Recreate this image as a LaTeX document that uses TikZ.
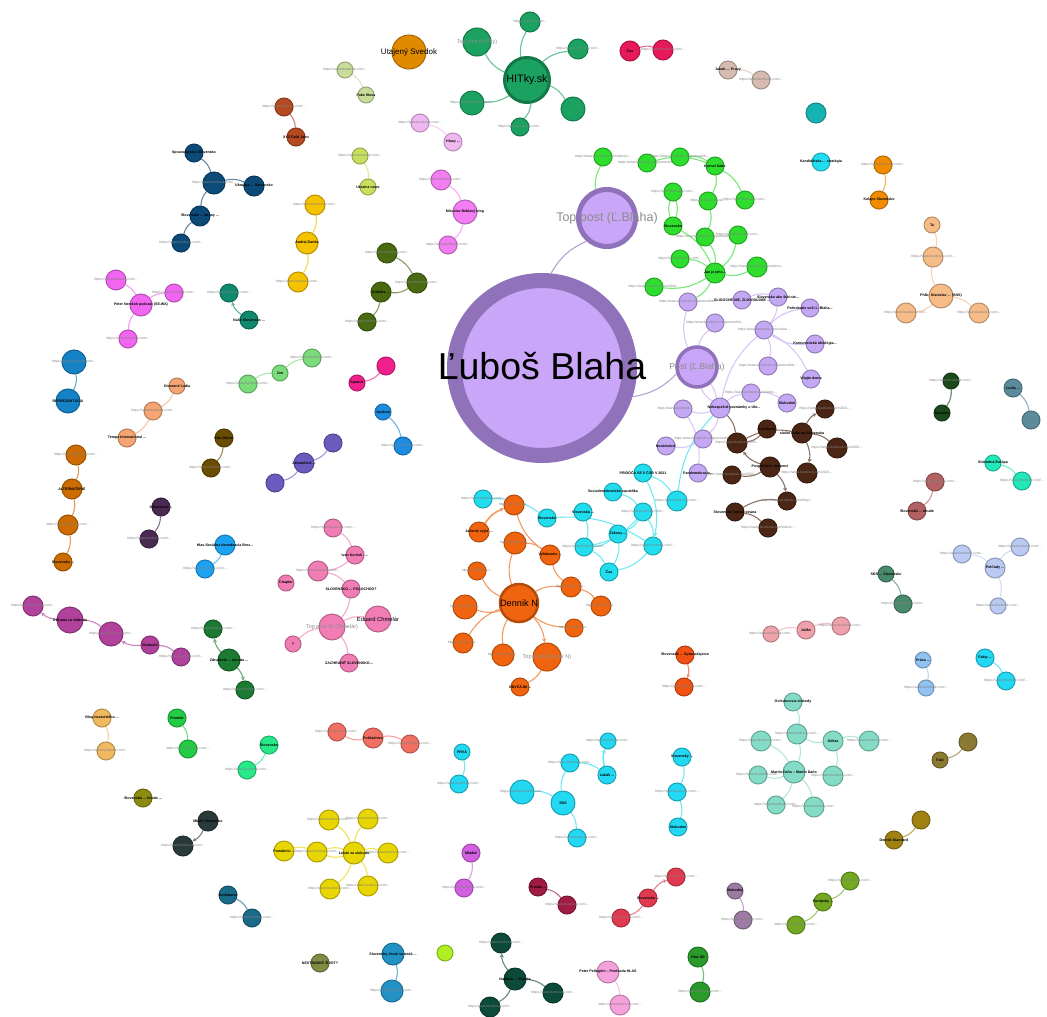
\documentclass[tikz,border=0pt]{standalone}
\usepackage{fontspec}
\setmainfont{Liberation Sans}
\usetikzlibrary{arrows.meta,backgrounds}

\definecolor{kblahaf}{HTML}{C9A6F7}
\definecolor{kblahal}{HTML}{8F72B9}
\definecolor{kpur}{HTML}{C4A8F4}
\definecolor{kbrown}{HTML}{4B2614}
\definecolor{kgreen}{HTML}{2EDD2E}
\definecolor{khit}{HTML}{1BA261}
\definecolor{kus}{HTML}{E08A00}
\definecolor{kcrim}{HTML}{E8195A}
\definecolor{krosy}{HTML}{D6BCB0}
\definecolor{kteal}{HTML}{17B2B2}
\definecolor{kcyan}{HTML}{22DDEE}
\definecolor{korng}{HTML}{F08C00}
\definecolor{kpeach}{HTML}{F5BC88}
\definecolor{kolivl}{HTML}{C8DC9C}
\definecolor{kbrred}{HTML}{B44A22}
\definecolor{klvio}{HTML}{F0B8F0}
\definecolor{kdblue}{HTML}{0C4A78}
\definecolor{kyel}{HTML}{F5C200}
\definecolor{klime}{HTML}{C8E060}
\definecolor{kmagl}{HTML}{F27EF2}
\definecolor{kodg}{HTML}{4A6A12}
\definecolor{kmpink}{HTML}{F066F0}
\definecolor{ktgrn}{HTML}{10896F}
\definecolor{kblu}{HTML}{1482C4}
\definecolor{klgrn}{HTML}{7CDC7C}
\definecolor{kpred}{HTML}{F0208C}
\definecolor{kbblu}{HTML}{1C8CE0}
\definecolor{ksalm}{HTML}{F5A474}
\definecolor{kobr}{HTML}{6A4C02}
\definecolor{kpmed}{HTML}{6A5CBE}
\definecolor{kobrn}{HTML}{CC6C02}
\definecolor{kdpurp}{HTML}{4A2A52}
\definecolor{ksblu}{HTML}{1CA2F0}
\definecolor{kmgp}{HTML}{B0429C}
\definecolor{kdgrn}{HTML}{1C7A32}
\definecolor{kchm}{HTML}{F07EB4}
\definecolor{kdn}{HTML}{F0640F}
\definecolor{klor}{HTML}{F2BA60}
\definecolor{kgr}{HTML}{22CC44}
\definecolor{kspg}{HTML}{28E88A}
\definecolor{ksrd}{HTML}{F07064}
\definecolor{kolv}{HTML}{8C8C10}
\definecolor{kdsl}{HTML}{2A3A3A}
\definecolor{kywl}{HTML}{E8D602}
\definecolor{kdtb}{HTML}{1A6A88}
\definecolor{kogr}{HTML}{7E8C44}
\definecolor{kbtl}{HTML}{2292C4}
\definecolor{klm}{HTML}{AEEE22}
\definecolor{kdkt}{HTML}{0C4A3A}
\definecolor{kpkl}{HTML}{F5A2DC}
\definecolor{kgg}{HTML}{2A9A2A}
\definecolor{kmgc}{HTML}{D060E0}
\definecolor{kcrm}{HTML}{A01C44}
\definecolor{krd}{HTML}{E03A50}
\definecolor{klvg}{HTML}{9C7CA2}
\definecolor{kgl}{HTML}{72A822}
\definecolor{kog}{HTML}{A08212}
\definecolor{kkh}{HTML}{8A7A32}
\definecolor{kmnt}{HTML}{84DCC6}
\definecolor{klpk}{HTML}{F0A2AA}
\definecolor{klb}{HTML}{92C2F0}
\definecolor{kcy}{HTML}{22D8F2}
\definecolor{kopr}{HTML}{F05214}
\definecolor{kgg2}{HTML}{4A8A6C}
\definecolor{klbv}{HTML}{BACAF2}
\definecolor{krose}{HTML}{B26262}
\definecolor{kmn}{HTML}{22E8BA}
\definecolor{kslt}{HTML}{5C8C9C}
\definecolor{kdgr}{HTML}{1C4A1C}

\tikzset{
  gnode/.style={circle, inner sep=0pt, line width=1pt},
  lbl/.style={font=\fontsize{3.6}{4}\selectfont\bfseries, text=black, inner sep=0pt},
  url/.style={font=\fontsize{3.4}{4}\selectfont, text=black!50, inner sep=0pt},
  toplbl/.style={text=black!45, inner sep=0pt},
  edge/.style={line width=1.1pt},
  arr/.style={-{Stealth[length=4pt,width=4pt]}},
}
% node: [label style]{name}{colour}{x,y}{radius}{text}
\newcommand{\gn}[6][url]{%
  \node[gnode,fill=#3,draw=#3!75!black,minimum size=#5*2pt] (#2) at (#4) {};
  \node[#1] at (#2) {#6};}
% edge: [options]{colour}{from}{to}
\newcommand{\ed}[4][]{\draw[edge,draw=#2!65,#1] (#3) to[bend left=18] (#4);}

\begin{document}
\begin{tikzpicture}[x=1pt,y=-1pt]
\useasboundingbox (0,0) rectangle (1047,1017);

% central
\node[circle,fill=kblahaf,draw=kblahal,line width=15pt,minimum size=175pt,inner sep=0pt] (blaha) at (542,368) {};
\node[circle,fill=kblahaf,draw=kblahal,line width=5pt,minimum size=57pt,inner sep=0pt] (topb) at (607,218) {};
\node[circle,fill=kblahaf,draw=kblahal,line width=3.5pt,minimum size=40pt,inner sep=0pt] (postb) at (697,367) {};

% purple
\gn{p1}{kpur}{688,302}{9}{https://www.facebook.com/permalink...}
\gn[lbl]{p2}{kpur}{742,300}{9}{OLIGOCHÉ NIE, ZLIKVIDUJME ...}
\gn[lbl]{p3}{kpur}{778,297}{9}{Slovensko ako štát nie...}
\gn[lbl]{p4}{kpur}{810,308}{9}{Pohrdnutie voči Ľ. Blaha...}
\gn{p5}{kpur}{715,323}{9}{https://www.facebook.com/permalink...}
\gn{p6}{kpur}{764,330}{9}{https://www.facebook.com/zlava/...}
\gn[lbl]{p7}{kpur}{815,344}{9}{Komunistická ideológia...}
\gn{p8}{kpur}{768,366}{9}{https://www.facebook.com/permalink...}
\gn[lbl]{p9}{kpur}{811,379}{9}{Vitajte doma}
\gn{p10}{kpur}{751,393}{9}{https://www.facebook.com/video...}
\gn[lbl]{p11}{kpur}{787,403}{9}{Slobodné}
\gn[lbl,xshift=14pt]{p12}{kpur}{720,408}{10}{Nebezpečné poznámky o Ukr...}
\gn[url,xshift=-8pt]{p13}{kpur}{683,409}{9}{https://www.facebook...}
\gn{p14}{kpur}{703,439}{9}{https://www.facebook.com/permalink...}
\gn[lbl]{p15}{kpur}{666,446}{9}{Nezávislosť}
\gn[lbl]{p16}{kpur}{698,473}{9}{Pandemokracia...}

% brown
\gn{b1}{kbrown}{825,409}{9}{https://www.facebook.com/2021...}
\gn[lbl]{b2}{kbrown}{767,429}{9}{Facebook}
\gn[lbl]{b3}{kbrown}{802,433}{10}{slušní ľudia na Slovensku}
\gn{b4}{kbrown}{737,443}{10}{https://www.facebook.com/...}
\gn{b5}{kbrown}{837,448}{10}{https://www.facebook.com/2021...}
\gn[lbl]{b6}{kbrown}{770,467}{10}{Pospolitosť vlastenci}
\gn{b7}{kbrown}{807,473}{10}{https://www.facebook.com/2021...}
\gn{b8}{kbrown}{732,475}{9}{https://www.facebook.com/2021...}
\gn{b9}{kbrown}{787,501}{9}{https://www.facebook.com/fotky/...}
\gn[lbl]{b10}{kbrown}{735,512}{9}{Slovenská ľudová strana}
\gn{b11}{kbrown}{768,528}{9}{https://www.facebook.com/videos...}

% green
\gn{g1}{kgreen}{603,157}{9}{https://www.facebook.com/videos/1...}
\gn{g2}{kgreen}{647,163}{9}{https://www.facebook.com/permalink...}
\gn{g3}{kgreen}{680,157}{9}{https://www.facebook.com/permalink...}
\gn[lbl]{g4}{kgreen}{715,166}{9}{Kornel Sabo}
\gn{g5}{kgreen}{673,192}{9}{https://www.facebook.com/...}
\gn{g6}{kgreen}{708,201}{9}{https://www.facebook...}
\gn{g7}{kgreen}{745,200}{9}{https://www.facebook.com/...}
\gn[lbl]{g8}{kgreen}{673,226}{9}{Slovensko}
\gn{g9}{kgreen}{705,237}{9}{https://www.facebook.com/permalink...}
\gn{g10}{kgreen}{738,235}{9}{https://www.facebook.com/...}
\gn{g11}{kgreen}{680,259}{9}{https://www.facebook.com/...}
\gn[lbl]{g12}{kgreen}{715,273}{10}{Jan je jeho...}
\gn{g13}{kgreen}{757,267}{10}{https://www.facebook.com/videos...}
\gn{g14}{kgreen}{654,287}{9}{https://www.facebook.com/2021...}

% HITky.sk
\node[circle,fill=khit,draw=khit!75!black,line width=3pt,minimum size=45pt,inner sep=0pt] (hit) at (527,80) {};
\gn{h2}{khit}{530,22}{10}{https://www.hitky.sk/...}
\gn{h3}{khit}{578,49}{10}{https://www.facebook.com/...}
\gn{h4}{khit}{573,109}{12}{}
\gn{h5}{khit}{520,127}{9}{https://www.facebook.com/...}
\gn{h6}{khit}{472,103}{12}{https://www.facebook.com/...}
\gn[toplbl,font=\fontsize{5.5}{6}\selectfont]{h1}{khit}{477,42}{14}{Top post (HITky)}
\node[font=\fontsize{10.8}{11}\selectfont] at (hit) {HITky.sk};
\gn[font=\fontsize{8}{8}\selectfont]{us}{kus}{409,52}{17}{Utajený Svedok}

% Dennik N
\gn{o1}{kdn}{514,505}{10}{https://dennikn.sk/...}
\gn[lbl]{o2}{kdn}{479,532}{10}{Jedenie vyjsť ...}
\gn{o3}{kdn}{515,543}{11}{https://dennikn.sk/...}
\gn[lbl]{o4}{kdn}{550,555}{10}{Vyhlásenie ...}
\gn{o5}{kdn}{477,571}{9}{https://dennikn.sk/...}
\gn{o6}{kdn}{571,587}{10}{https://dennikn.sk/...}
\gn{o7}{kdn}{465,607}{12}{https://dennikn.sk/...}
\gn{o8}{kdn}{601,606}{10}{https://dennikn.sk/...}
\gn{o9}{kdn}{574,628}{9}{https://dennikn.sk/...}
\gn{o10}{kdn}{463,643}{10}{https://dennikn.sk/...}
\gn{o11}{kdn}{503,655}{11}{https://dennikn.sk/...}
\gn[toplbl,font=\fontsize{5.5}{6}\selectfont]{o12}{kdn}{547,657}{14}{Top post (Dennik N)}
\gn[lbl]{o13}{kdn}{520,687}{9}{ODVČÁJM ...}
\node[circle,fill=kdn,draw=kdn!75!black,line width=2.5pt,minimum size=38pt,inner sep=0pt] (dn) at (519,603) {};
\node[font=\fontsize{9.2}{10}\selectfont] at (dn) {Dennik N};

% cyan
\gn{c1}{kcyan}{483,499}{9}{https://www.facebook.com/...}
\gn[lbl]{c2}{kcyan}{547,518}{9}{Slovensko}
\gn[lbl]{c3}{kcyan}{583,512}{9}{Slovenská ...}
\gn[lbl]{c4}{kcyan}{613,492}{9}{Sociademokratická republika}
\gn[lbl]{c5}{kcyan}{643,473}{9}{PRIDOČA SE V ČSR V 2021}
\gn{c6}{kcyan}{677,501}{10}{https://www.facebook.com/...}
\gn{c7}{kcyan}{643,512}{9}{https://www.facebook.com/...}
\gn[lbl]{c8}{kcyan}{618,534}{9}{Zákony ...}
\gn{c9}{kcyan}{584,547}{9}{https://www.facebook.com/...}
\gn{c10}{kcyan}{653,546}{9}{https://www.facebook.com/...}
\gn[lbl]{c11}{kcyan}{609,572}{9}{Čas}

% Chmelar
\gn{e1}{kchm}{333,528}{9}{https://www.facebook.com/...}
\gn[lbl]{e2}{kchm}{355,555}{9}{Ivan Korčok - ...}
\gn{e3}{kchm}{318,571}{10}{https://www.facebook.com/...}
\gn[lbl]{e4}{kchm}{286,583}{8}{Chapter}
\gn[lbl]{e5}{kchm}{351,589}{9}{SLOVENSKO ... POLOCHOD?}
\gn[toplbl,font=\fontsize{5.5}{6}\selectfont]{e6}{kchm}{332,627}{13}{Top post (E.Chmelár)}
\gn[font=\fontsize{5.8}{6}\selectfont]{e7}{kchm}{378,619}{13}{Eduard Chmelár}
\gn[lbl]{e8}{kchm}{293,644}{8}{?}
\gn[lbl]{e9}{kchm}{349,663}{9}{ZACHRÁNIŤ SLOVENSKO...}

% small clusters, upper left
\gn{lo1}{kolivl}{345,70}{8}{https://www.facebook.com/...}
\gn[lbl]{lo2}{kolivl}{366,95}{8}{Fake Slova}
\gn{br1}{kbrred}{284,107}{9}{https://www.facebook.com/...}
\gn[lbl]{br2}{kbrred}{296,137}{9}{XYZ Gold Jahn}
\gn{lv1}{klvio}{420,123}{9}{https://www.facebook.com/...}
\gn[lbl]{lv2}{klvio}{453,142}{9}{Hlasy ...}
\gn[lbl]{db1}{kdblue}{194,153}{9}{Spravodajstvo Slovensko}
\gn{db2}{kdblue}{214,183}{11}{https://www.facebook.com/...}
\gn[lbl]{db3}{kdblue}{254,186}{10}{Ukrajina ... Slovensko}
\gn[lbl]{db4}{kdblue}{200,216}{10}{Slovenské ... strany ...}
\gn{db5}{kdblue}{181,243}{9}{https://www.facebook.com/...}
\gn{yl1}{kyel}{315,205}{10}{https://www.facebook.com/...}
\gn[lbl]{yl2}{kyel}{307,243}{11}{Andrej Danko}
\gn{yl3}{kyel}{298,282}{10}{https://www.facebook.com/...}
\gn{lm1}{klime}{360,156}{8}{https://www.facebook.com/...}
\gn[lbl]{lm2}{klime}{368,187}{8}{Ukraine news}
\gn{mg1}{kmagl}{441,180}{10}{https://www.facebook.com/...}
\gn[lbl]{mg2}{kmagl}{465,212}{12}{Miroslav Beblavý blog}
\gn{mg3}{kmagl}{448,245}{9}{https://www.facebook.com/...}
\gn{od1}{kodg}{387,253}{10}{https://www.facebook.com/...}
\gn{od2}{kodg}{417,283}{10}{https://www.facebook.com/...}
\gn[lbl]{od3}{kodg}{381,292}{10}{Kotleba ...}
\gn{od4}{kodg}{367,322}{9}{https://www.facebook.com/...}
\gn{mp1}{kmpink}{116,280}{10}{https://www.facebook.com/...}
\gn[lbl]{mp2}{kmpink}{141,305}{11}{Peter Nemčok podcast (SE.WA)}
\gn{mp3}{kmpink}{174,293}{9}{https://www.facebook.com/...}
\gn{mp4}{kmpink}{128,339}{9}{https://www.facebook.com/...}
\gn{tg1}{ktgrn}{229,293}{9}{https://www.facebook.com/...}
\gn[lbl]{tg2}{ktgrn}{249,320}{9}{Naše Slovensko ...}
\gn{bl1}{kblu}{74,362}{12}{https://www.facebook.com/...}
\gn[lbl]{bl2}{kblu}{68,401}{12}{REPREZENTÁCIA}
\gn{lg1}{klgrn}{248,384}{9}{https://www.facebook.com/...}
\gn[lbl]{lg2}{klgrn}{280,373}{8}{Zen}
\gn{lg3}{klgrn}{312,358}{9}{https://www.facebook.com/...}
\gn{pr1}{kpred}{386,366}{9}{}
\gn[lbl]{pr2}{kpred}{357,383}{8}{Sputnik}
\gn[lbl]{bb1}{kbblu}{383,412}{8}{Jardová}
\gn{bb2}{kbblu}{403,446}{9}{https://www.facebook.com/...}
\gn[lbl]{sa1}{ksalm}{177,386}{8}{Otvorené Ľudia}
\gn{sa2}{ksalm}{153,411}{9}{https://www.facebook.com/...}
\gn[lbl]{sa3}{ksalm}{127,438}{9}{Tempo International ...}
\gn[lbl]{ob1}{kobr}{224,438}{9}{Pán Občan}
\gn{ob2}{kobr}{211,468}{9}{https://www.facebook.com/...}
\gn{pm1}{kpmed}{333,443}{9}{}
\gn[lbl]{pm2}{kpmed}{304,463}{10}{Zahraničné ...}
\gn{pm3}{kpmed}{275,483}{9}{}
\gn{ab1}{kobrn}{76,455}{10}{https://www.facebook.com/...}
\gn[lbl]{ab2}{kobrn}{72,489}{10}{ALTERNATÍVNE}
\gn{ab3}{kobrn}{68,525}{10}{https://www.facebook.com/...}
\gn[lbl]{ab4}{kobrn}{63,562}{9}{Slovensko ...}
\gn[lbl]{dp1}{kdpurp}{161,507}{9}{Súčasnosť ...}
\gn{dp2}{kdpurp}{149,539}{9}{https://www.facebook.com/...}
\gn[lbl]{sb1}{ksblu}{225,545}{10}{Hlas-Sociálna demokracia Brez...}
\gn{sb2}{ksblu}{205,569}{9}{https://www.facebook.com/...}
\gn{m1}{kmgp}{33,606}{10}{https://www.facebook.com/...}
\gn[lbl]{m2}{kmgp}{70,620}{13}{Občania za slobodu}
\gn{m3}{kmgp}{111,634}{12}{https://www.facebook.com/...}
\gn[lbl]{m4}{kmgp}{150,645}{9}{Slobodní}
\gn{m5}{kmgp}{181,657}{9}{https://www.facebook.com/...}
\gn{dg1}{kdgrn}{213,629}{9}{https://www.facebook.com/...}
\gn[lbl]{dg2}{kdgrn}{229,660}{11}{Združenie ... národa ...}
\gn{dg3}{kdgrn}{245,690}{9}{https://www.facebook.com/...}

% small clusters, lower left
\gn[lbl]{la1}{klor}{102,718}{9}{Blog nezávislého ...}
\gn{la2}{klor}{106,751}{9}{https://www.facebook.com/...}
\gn[lbl]{gr1}{kgr}{177,718}{9}{Premiér}
\gn{gr2}{kgr}{188,749}{9}{https://www.facebook.com/...}
\gn[lbl]{sp1}{kspg}{269,745}{9}{Slovensko}
\gn{sp2}{kspg}{247,770}{9}{https://www.facebook.com/...}
\gn{sr1}{ksrd}{337,732}{9}{https://www.facebook.com/...}
\gn[lbl]{sr2}{ksrd}{373,738}{10}{Pohľadnice}
\gn{sr3}{ksrd}{410,744}{9}{https://www.facebook.com/...}
\gn[lbl]{ol1}{kolv}{143,798}{9}{Slovenská ... hnutie ...}
\gn[lbl]{ds1}{kdsl}{208,821}{10}{Mladé Slovensko}
\gn{ds2}{kdsl}{183,846}{10}{https://www.facebook.com/...}
\gn[lbl]{y1}{kywl}{284,851}{10}{Pamätníci ...}
\gn{y2}{kywl}{317,852}{10}{https://www.facebook.com/...}
\gn{y3}{kywl}{329,820}{10}{https://www.facebook.com/...}
\gn{y4}{kywl}{368,819}{10}{https://www.facebook.com/...}
\gn[lbl]{y5}{kywl}{354,853}{11}{Lekári za slobodu}
\gn{y6}{kywl}{388,853}{10}{https://www.facebook.com/...}
\gn{y7}{kywl}{330,889}{10}{https://www.facebook.com/...}
\gn{y8}{kywl}{368,886}{10}{https://www.facebook.com/...}
\gn[lbl]{dt1}{kdtb}{228,895}{9}{Kotlebovci}
\gn{dt2}{kdtb}{252,918}{9}{https://www.facebook.com/...}
\gn[lbl]{og1}{kogr}{320,963}{9}{NESTRANNÝ ŽIVOT?}
\gn[lbl]{bt1}{kbtl}{393,954}{11}{Slovensko, ktoré sa nedá ...}
\gn{bt2}{kbtl}{392,991}{11}{https://www.facebook.com/...}
\gn[lbl]{lm3}{klm}{445,953}{8}{}

% bottom middle
\gn{k1}{kdkt}{501,943}{10}{https://www.facebook.com/...}
\gn[lbl]{k2}{kdkt}{515,979}{11}{Nadácia ... Pravda}
\gn{k3}{kdkt}{553,993}{10}{https://www.facebook.com/...}
\gn{k4}{kdkt}{490,1007}{10}{https://www.facebook.com/...}
\gn[lbl]{pk1}{kpkl}{608,972}{11}{Peter Pellegrini -- Predseda HLAS}
\gn{pk2}{kpkl}{620,1005}{10}{https://www.facebook.com/...}
\gn[lbl]{gg1}{kgg}{698,957}{10}{Hlas SD}
\gn{gg2}{kgg}{700,992}{10}{https://www.facebook.com/...}
\gn[lbl]{q1}{kcy}{462,752}{8}{PRVÁ}
\gn{q2}{kcy}{459,784}{9}{https://www.facebook.com/...}
\gn{q3}{kcy}{522,792}{12}{https://www.facebook.com/...}
\gn[lbl]{q4}{kcy}{563,803}{12}{SNS}
\gn{q5}{kcy}{570,763}{9}{https://www.facebook.com/...}
\gn[lbl]{q6}{kcy}{607,775}{9}{Lukáš ...}
\gn{q7}{kcy}{608,741}{8}{https://www.facebook.com/...}
\gn{q8}{kcy}{577,838}{9}{https://www.facebook.com/...}
\gn[lbl]{r1}{kcy}{682,757}{9}{Slovenský ...}
\gn{r2}{kcy}{677,792}{9}{https://www.facebook.com/...}
\gn[lbl]{r3}{kcy}{678,827}{9}{Slobodne}
\gn[lbl]{mc1}{kmgc}{471,853}{9}{Mládež}
\gn{mc2}{kmgc}{464,888}{9}{https://www.facebook.com/...}
\gn[lbl]{cr1}{kcrm}{538,887}{9}{Pravda ...}
\gn{cr2}{kcrm}{567,905}{9}{https://www.facebook.com/...}
\gn{rd1}{krd}{676,877}{9}{https://www.facebook.com/...}
\gn[lbl]{rd2}{krd}{648,898}{9}{Slovensko ...}
\gn{rd3}{krd}{621,918}{9}{https://www.facebook.com/...}
\gn[lbl]{op1}{kopr}{685,655}{9}{Slovenské ... Spravodajstvo}
\gn{op2}{kopr}{684,687}{9}{https://www.facebook.com/...}

% right side
\gn[lbl]{lg4}{klvg}{735,891}{8}{Slobodný}
\gn{lg5}{klvg}{743,920}{9}{https://www.facebook.com/...}
\gn{gl1}{kgl}{850,881}{9}{https://www.facebook.com/...}
\gn[lbl]{gl2}{kgl}{823,902}{9}{Európsky ...}
\gn{gl3}{kgl}{796,925}{9}{https://www.facebook.com/...}
\gn{og3}{kog}{921,820}{9}{}
\gn[lbl]{og4}{kog}{894,840}{9}{Dennik Standard}
\gn{kh1}{kkh}{968,742}{9}{}
\gn[lbl]{kh2}{kkh}{940,760}{8}{Fakt}
\gn[lbl]{md1}{kmnt}{793,702}{9}{Ochráncovia slobody}
\gn{md2}{kmnt}{797,734}{10}{https://www.facebook.com/...}
\gn{md3}{kmnt}{761,741}{10}{https://www.facebook.com/...}
\gn[lbl]{md4}{kmnt}{833,741}{10}{Odkaz}
\gn{md5}{kmnt}{869,741}{10}{https://www.facebook.com/...}
\gn[lbl]{md6}{kmnt}{794,772}{11}{Martin Daňo -- Martin Daňo}
\gn{md7}{kmnt}{758,775}{9}{https://www.facebook.com/...}
\gn{md8}{kmnt}{833,776}{10}{https://www.facebook.com/...}
\gn{md9}{kmnt}{776,805}{9}{https://www.facebook.com/...}
\gn{md10}{kmnt}{814,807}{10}{https://www.facebook.com/...}
\gn{lp1}{klpk}{771,634}{8}{https://www.facebook.com/...}
\gn[lbl]{lp2}{klpk}{806,630}{9}{Jožko}
\gn{lp3}{klpk}{841,626}{9}{https://www.facebook.com/...}
\gn[lbl]{lb1}{klb}{923,660}{8}{Právo ...}
\gn{lb2}{klb}{926,688}{8}{https://www.facebook.com/...}
\gn[lbl]{cy1}{kcy}{985,658}{9}{Fakty ...}
\gn{cy2}{kcy}{1006,681}{9}{https://www.facebook.com/...}
\gn[lbl]{gq1}{kgg2}{886,574}{8}{SKR ... Slovensko}
\gn{gq2}{kgg2}{903,604}{9}{https://www.facebook.com/...}
\gn{lv3}{klbv}{962,554}{9}{https://www.facebook.com/...}
\gn{lv4}{klbv}{1020,547}{9}{https://www.facebook.com/...}
\gn[lbl]{lv5}{klbv}{995,568}{10}{Pohľady ...}
\gn{lv6}{klbv}{998,606}{8}{https://www.facebook.com/...}
\gn{ro1}{krose}{935,482}{9}{https://www.facebook.com/...}
\gn[lbl]{ro2}{krose}{917,511}{9}{Slovenská ... hnutie}
\gn[lbl]{mn1}{kmn}{993,463}{8}{Slobodná Európa}
\gn{mn2}{kmn}{1022,481}{9}{https://www.facebook.com/...}
\gn[lbl]{sl1}{kslt}{1013,388}{9}{Ľudia ...}
\gn{sl2}{kslt}{1031,420}{9}{}
\gn{dr1}{kdgr}{951,381}{8}{https://www.facebook.com/...}
\gn[lbl]{dr2}{kdgr}{942,413}{8}{Slovakia}

% upper right
\gn[lbl]{cc1}{kcrim}{630,51}{10}{Čas}
\gn{cc2}{kcrim}{663,50}{10}{https://www.facebook.com/...}
\gn[lbl]{ry1}{krosy}{728,70}{9}{Jakub ... Pravý}
\gn{ry2}{krosy}{761,80}{9}{https://www.facebook.com/...}
\gn{tc1}{kteal}{816,113}{10}{}
\gn[lbl]{cn1}{kcyan}{821,162}{9}{Kandidátska ... stratégia}
\gn{or1}{korng}{883,165}{9}{https://www.facebook.com/...}
\gn[lbl]{or2}{korng}{879,200}{9}{Kolaps Slovensko}
\gn[lbl]{pe1}{kpeach}{932,225}{8}{Ta}
\gn{pe2}{kpeach}{933,257}{10}{https://www.facebook.com/...}
\gn[lbl]{pe3}{kpeach}{941,296}{12}{PhDr. Stanislav ... (SNS)}
\gn{pe4}{kpeach}{906,313}{10}{https://www.facebook.com/...}
\gn{pe5}{kpeach}{979,313}{10}{https://www.facebook.com/...}

% big labels
\node[font=\fontsize{37.5}{38}\selectfont] at (542,366) {Ľuboš Blaha};
\node[toplbl,font=\fontsize{12.5}{13}\selectfont] at (607,218) {Top post (Ľ.Blaha)};
\node[toplbl,font=\fontsize{8.7}{9}\selectfont] at (697,367) {Post (Ľ.Blaha)};

\begin{scope}[on background layer]
\fill[white] (0,0) rectangle (1047,1017);
\ed{kblahal}{blaha}{topb}
\ed{kblahal}{postb}{blaha}
\ed{kpur}{postb}{p1}
\ed{kpur}{postb}{p5}
\ed{kpur}{p12}{postb}
\draw[edge,draw=kpur!65] (p12) to[bend right=10] (postb);
\ed{kpur}{p12}{p6}
\ed{kpur}{p2}{p3}
\ed{kpur}{p3}{p6}
\ed{kpur}{p6}{p4}
\ed[arr]{kpur}{p7}{p6}
\ed{kpur}{p6}{p9}
\ed{kpur}{p6}{p8}
\ed{kpur}{p12}{p10}
\ed{kpur}{p10}{p11}
\ed{kpur}{p12}{p13}
\ed{kpur}{p13}{p16}
\ed{kpur}{p12}{p14}
\ed{kpur}{p14}{p15}
\ed{kcyan}{c6}{p12}
\ed{kbrown}{p12}{b4}
\ed{kbrown}{b4}{b3}
\ed[arr]{kbrown}{b3}{b1}
\ed{kbrown}{b3}{b5}
\ed[arr]{kbrown}{b3}{b7}
\ed{kbrown}{b2}{b4}
\ed[arr]{kbrown}{b6}{b4}
\ed{kbrown}{b6}{b8}
\ed[arr]{kbrown}{b6}{b9}
\ed{kbrown}{b10}{b9}
\ed{kbrown}{b10}{b11}
\ed{kgreen}{topb}{g1}
\ed{kgreen}{g2}{g4}
\ed{kgreen}{g3}{g4}
\ed{kgreen}{g4}{g6}
\ed{kgreen}{g4}{g7}
\ed{kgreen}{g5}{g8}
\ed{kgreen}{g8}{g5}
\ed{kgreen}{g8}{g12}
\ed{kgreen}{g6}{g9}
\ed{kgreen}{g9}{g12}
\ed{kgreen}{g10}{g12}
\ed{kgreen}{g11}{g12}
\ed{kgreen}{g13}{g12}
\ed{kgreen}{g12}{g14}
\ed{kgreen}{g12}{p1}
\foreach \h in {h1,h2,h3,h4,h5,h6} {\ed{khit}{hit}{\h}}
\ed{kdn}{dn}{o3}
\ed{kdn}{dn}{o5}
\ed{kdn}{dn}{o7}
\ed{kdn}{o10}{dn}
\ed{kdn}{o11}{dn}
\ed[arr]{kdn}{dn}{o12}
\ed{kdn}{o9}{dn}
\ed{kdn}{dn}{o6}
\ed{kdn}{o6}{o8}
\ed{kdn}{o6}{o4}
\ed{kdn}{o4}{o1}
\ed{kdn}{o3}{o4}
\ed[arr,line width=1.6pt]{kdn}{o2}{o1}
\ed{kdn}{o12}{o13}
\ed{kcyan}{c1}{c2}
\ed{kcyan}{c2}{c10}
\ed{kcyan}{c3}{c9}
\ed{kcyan}{c4}{c7}
\ed{kcyan}{c5}{c6}
\ed[arr]{kcyan}{c5}{c10}
\ed{kcyan}{c7}{c9}
\ed{kcyan}{c7}{c10}
\ed{kcyan}{c8}{c9}
\ed{kcyan}{c8}{c11}
\ed{kcyan}{c9}{c11}
\ed{kcyan}{c10}{c11}
\ed{kcyan}{c7}{c8}
\ed{kchm}{e1}{e2}
\ed{kchm}{e2}{e3}
\ed{kchm}{e3}{e5}
\ed{kchm}{e5}{e6}
\ed{kchm}{e6}{e7}
\ed{kchm}{e8}{e6}
\ed{kchm}{e6}{e9}
\ed{kolivl}{lo1}{lo2}
\ed{kbrred}{br1}{br2}
\ed{klvio}{lv1}{lv2}
\ed{kdblue}{db1}{db2}
\ed{kdblue}{db2}{db3}
\ed{kdblue}{db4}{db2}
\ed{kdblue}{db5}{db4}
\ed{kyel}{yl1}{yl2}
\ed{kyel}{yl2}{yl3}
\ed{klime}{lm1}{lm2}
\ed{kmagl}{mg1}{mg2}
\ed{kmagl}{mg2}{mg3}
\ed{kodg}{od1}{od2}
\ed{kodg}{od2}{od3}
\ed{kodg}{od3}{od4}
\ed{kmpink}{mp1}{mp2}
\ed{kmpink}{mp2}{mp3}
\ed{kmpink}{mp4}{mp2}
\ed[arr]{ktgrn}{tg2}{tg1}
\ed{kblu}{bl1}{bl2}
\ed{klgrn}{lg1}{lg2}
\ed{klgrn}{lg2}{lg3}
\ed{kpred}{pr1}{pr2}
\ed{kbblu}{bb1}{bb2}
\ed{ksalm}{sa1}{sa2}
\ed{ksalm}{sa2}{sa3}
\ed{kobr}{ob1}{ob2}
\ed{kpmed}{pm1}{pm2}
\ed{kpmed}{pm2}{pm3}
\ed{kobrn}{ab1}{ab2}
\ed{kobrn}{ab2}{ab3}
\ed{kobrn}{ab3}{ab4}
\ed{kdpurp}{dp1}{dp2}
\ed{ksblu}{sb1}{sb2}
\ed[arr]{kmgp}{m2}{m1}
\ed{kmgp}{m2}{m3}
\ed[arr]{kmgp}{m4}{m3}
\ed{kmgp}{m4}{m5}
\ed[arr]{kdgrn}{dg2}{dg1}
\ed[arr]{kdgrn}{dg2}{dg3}
\ed{klor}{la1}{la2}
\ed{kgr}{gr1}{gr2}
\ed{kspg}{sp1}{sp2}
\ed{ksrd}{sr2}{sr1}
\ed{ksrd}{sr2}{sr3}
\ed[arr]{kdsl}{ds1}{ds2}
\ed{kywl}{y1}{y2}
\ed{kywl}{y2}{y5}
\ed{kywl}{y5}{y2}
\ed{kywl}{y3}{y5}
\ed{kywl}{y5}{y4}
\ed{kywl}{y5}{y6}
\ed{kywl}{y5}{y7}
\ed{kywl}{y5}{y8}
\ed{kdtb}{dt1}{dt2}
\ed{kbtl}{bt1}{bt2}
\ed[arr]{kdkt}{k2}{k1}
\ed{kdkt}{k2}{k3}
\ed{kdkt}{k2}{k4}
\ed{kpkl}{pk1}{pk2}
\ed{kgg}{gg1}{gg2}
\ed{kcy}{q1}{q2}
\ed{kcy}{q3}{q4}
\ed{kcy}{q4}{q5}
\ed{kcy}{q5}{q6}
\ed[arr,line width=1.6pt]{kcy}{q6}{q7}
\ed{kcy}{q4}{q8}
\ed{kcy}{r1}{r2}
\ed{kcy}{r2}{r3}
\ed{kmgc}{mc1}{mc2}
\ed{kcrm}{cr1}{cr2}
\ed[arr]{krd}{rd2}{rd1}
\ed{krd}{rd2}{rd3}
\ed[arr]{kopr}{op1}{op2}
\ed{klvg}{lg4}{lg5}
\ed{kgl}{gl1}{gl2}
\ed{kgl}{gl2}{gl3}
\ed{kog}{og3}{og4}
\ed{kkh}{kh1}{kh2}
\ed{kmnt}{md1}{md2}
\ed{kmnt}{md2}{md6}
\ed{kmnt}{md3}{md6}
\ed{kmnt}{md4}{md2}
\ed{kmnt}{md4}{md5}
\ed{kmnt}{md4}{md8}
\ed{kmnt}{md6}{md7}
\ed{kmnt}{md6}{md9}
\ed{kmnt}{md6}{md10}
\ed{klpk}{lp1}{lp2}
\ed{klpk}{lp2}{lp3}
\ed{klb}{lb1}{lb2}
\ed{kcy}{cy1}{cy2}
\ed{kgg2}{gq1}{gq2}
\ed{klbv}{lv3}{lv5}
\ed{klbv}{lv5}{lv4}
\ed{klbv}{lv5}{lv6}
\ed{krose}{ro1}{ro2}
\ed{kmn}{mn1}{mn2}
\ed{kslt}{sl1}{sl2}
\ed{kdgr}{dr1}{dr2}
\ed{kcrim}{cc1}{cc2}
\ed{krosy}{ry1}{ry2}
\ed{korng}{or1}{or2}
\ed{kpeach}{pe1}{pe2}
\ed{kpeach}{pe3}{pe2}
\ed{kpeach}{pe3}{pe4}
\ed{kpeach}{pe3}{pe5}
\end{scope}
\end{tikzpicture}
\end{document}
